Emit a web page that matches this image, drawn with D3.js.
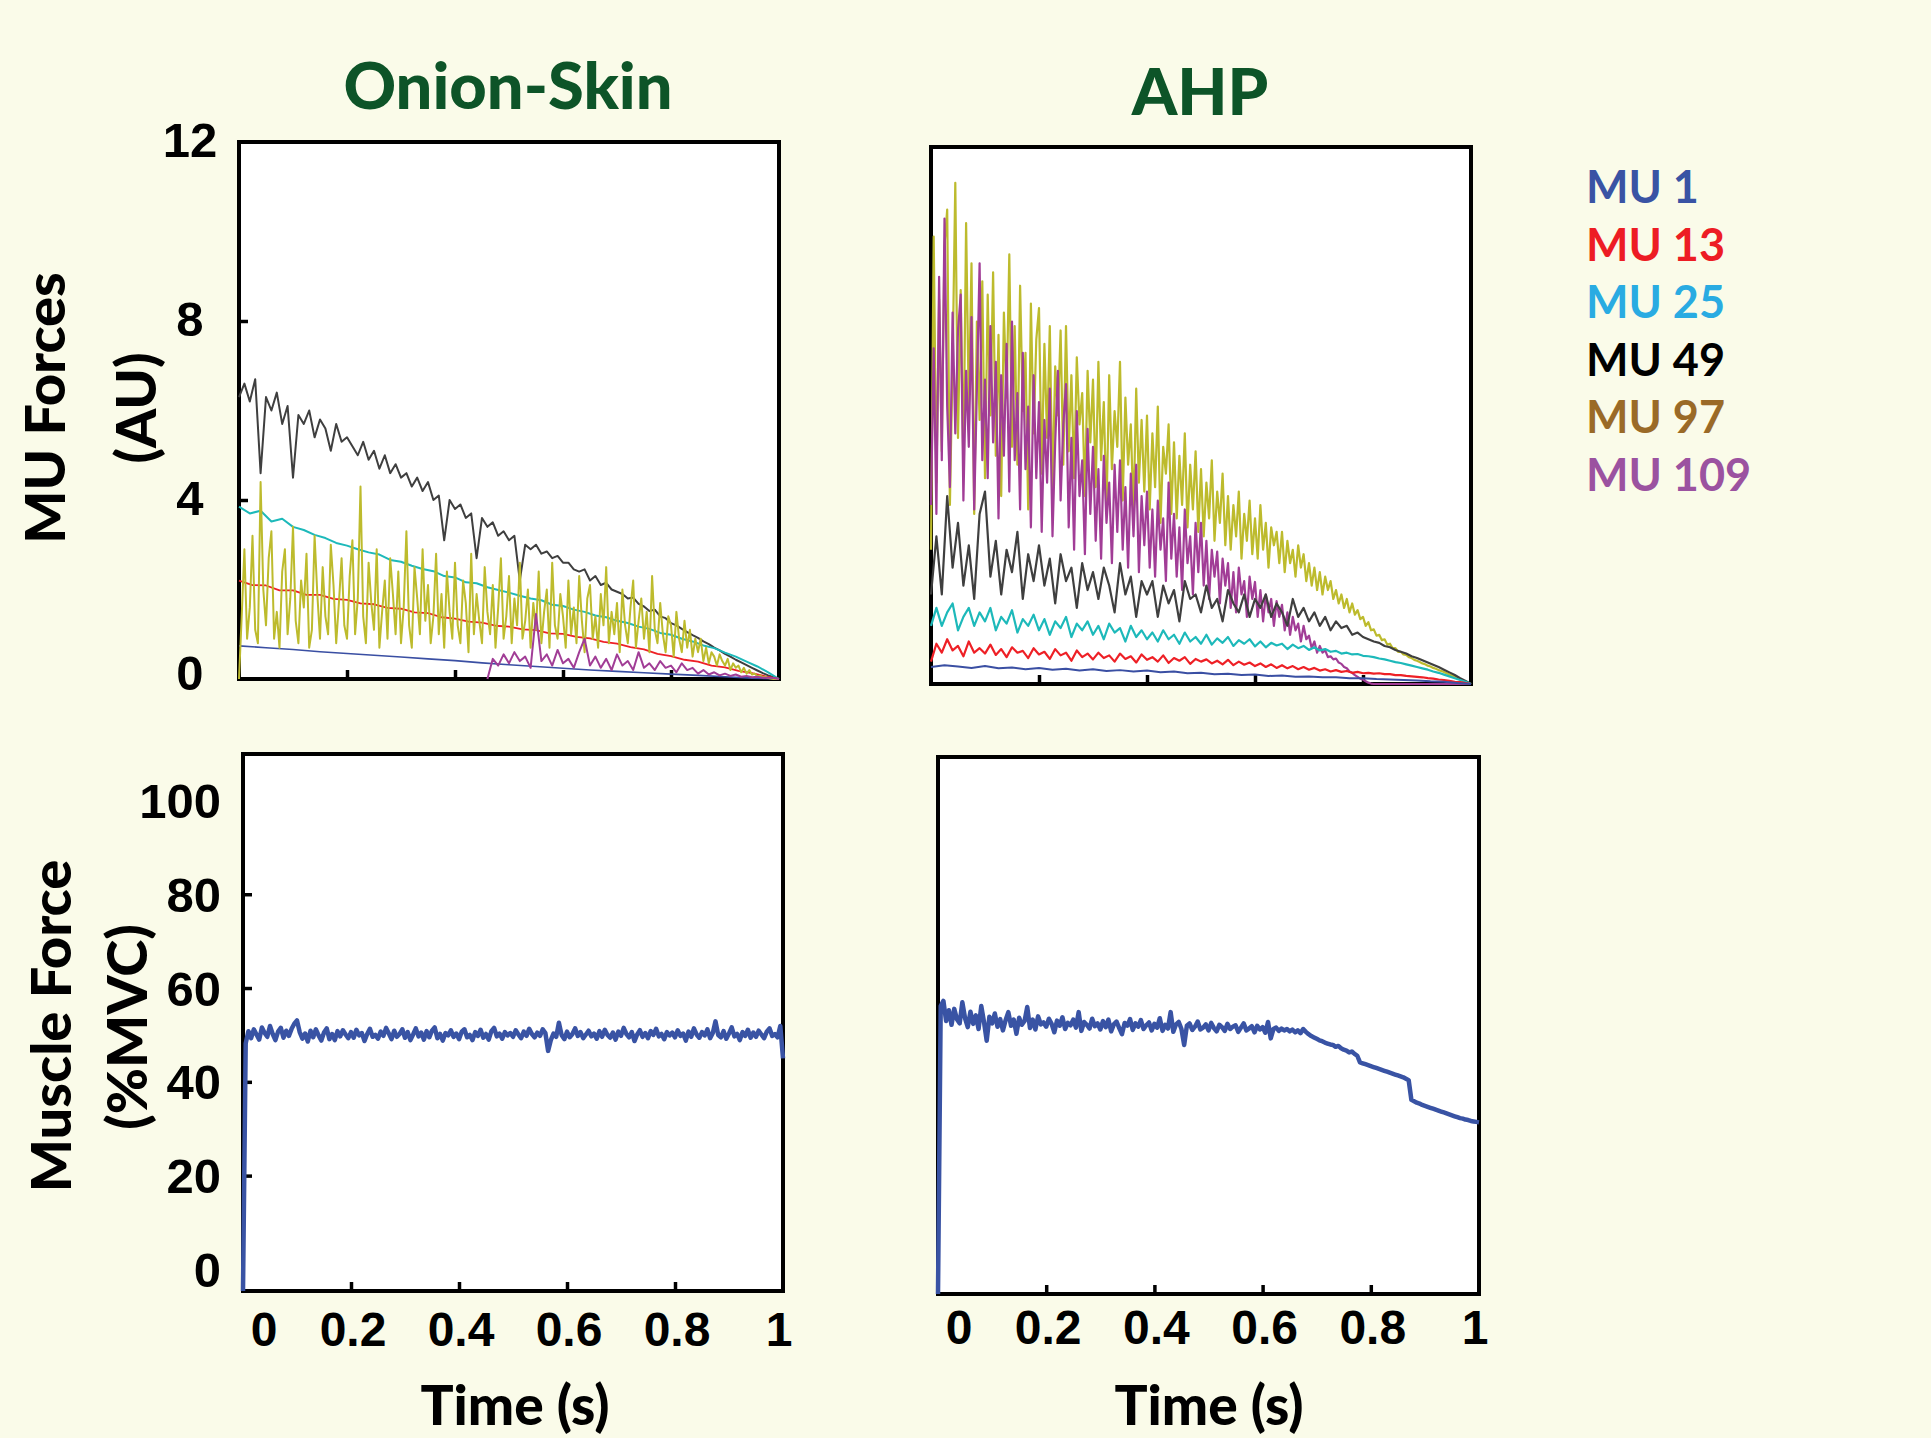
<!DOCTYPE html>
<html><head><meta charset="utf-8">
<script src="https://cdn.jsdelivr.net/npm/d3@7"></script>
<style>
html,body{margin:0;padding:0;background:#fafbe9;}
svg{display:block;}
</style></head><body>
<svg id="chart" width="1931" height="1438"></svg>
<script>
// ---------------- DATA ----------------
const panelTitles = ["Onion-Skin", "AHP"];
const timeTicks = [0, 0.2, 0.4, 0.6, 0.8, 1];
const timeTickLabels = ["0", "0.2", "0.4", "0.6", "0.8", "1"];
const muForceTicks = [0, 4, 8, 12];
const muscleTicks = [0, 20, 40, 60, 80, 100];
const legendLabels = ["MU 1", "MU 13", "MU 25", "MU 49", "MU 97", "MU 109"];

// sample steps of the traces (s)
const step005 = 0.005, step01 = 0.01, step02 = 0.02, step025 = 0.025, step05 = 0.05;

// Onion-Skin MU forces (AU)
const onionMU1 = [0.74,0.7,0.66,0.61,0.57,0.53,0.49,0.45,0.41,0.36,0.32,0.28,0.24,0.2,0.17,0.14,0.11,0.08,0.05,0.02,0];
const onionMU13 = [2.2,2.1,2.09,1.98,1.98,1.88,1.88,1.79,1.77,1.69,
 1.67,1.59,1.57,1.49,1.47,1.38,1.35,1.28,1.26,1.19,
 1.17,1.11,1.09,1.02,1.01,0.94,0.91,0.83,0.79,0.71,
 0.66,0.56,0.51,0.43,0.39,0.3,0.26,0.18,0.13,0.06,
 0];
const onionMU25 = [3.85,3.7,3.76,3.52,3.58,3.4,3.33,3.22,3.15,3.04,
 2.98,2.9,2.83,2.78,2.66,2.62,2.53,2.46,2.41,2.3,
 2.27,2.16,2.14,2.05,1.99,1.93,1.86,1.8,1.76,1.66,
 1.63,1.55,1.5,1.42,1.38,1.3,1.25,1.17,1.12,1.03,
 0.99,0.9,0.84,0.75,0.69,0.59,0.5,0.39,0.28,0.15,
 0];
const onionMU49 = [6.3,
 6.6,6.2,6.7,4.6,6.3,6.0,6.4,5.7,6.1,4.5,
 5.9,5.7,6.0,5.4,5.8,5.6,5.1,5.7,5.3,5.4,
 5.2,5.0,5.3,4.9,5.1,4.7,5.0,4.6,4.8,4.5,
 4.6,4.3,4.5,4.2,4.4,4.0,4.1,3.1,4.0,3.8,
 3.9,3.6,3.7,2.7,3.6,3.4,3.5,3.2,3.3,3.1,
 3.2,2.2,3.0,2.9,3.0,2.8,2.85,2.7,2.75,2.6,
 2.6,2.45,2.4,2.45,2.2,2.3,2.1,2.15,2.0,1.95,
 1.9,1.8,1.82,1.68,1.62,1.52,1.55,1.4,1.36,1.25,
 1.2,1.12,1.05,0.98,0.92,0.84,0.78,0.7,0.64,0.56,
 0.5,0.43,0.37,0.31,0.25,0.19,0.13,0.08,0.04,0];
const onionMU97 = [0,1.4,2.9,0.9,1.6,3.2,1.1,0.8,4.4,2.0,
 1.2,2.7,3.3,0.9,1.5,0.7,2.4,2.9,1.0,1.8,
 3.4,1.3,0.8,2.2,1.6,2.8,0.7,1.1,3.2,1.9,
 0.9,2.5,1.4,1.0,3.0,2.1,0.8,1.7,2.7,1.2,
 0.9,2.3,3.1,1.0,1.8,4.3,1.4,0.8,2.6,1.7,
 1.1,2.9,0.7,1.5,2.2,0.9,2.7,1.9,1.0,2.4,
 0.8,1.6,3.3,1.2,0.7,2.5,1.8,1.0,2.9,1.3,
 2.1,0.8,1.4,2.8,1.0,1.9,0.7,2.4,1.5,0.9,
 2.6,1.2,0.8,2.2,1.7,0.6,2.8,1.0,1.9,1.3,
 0.8,2.5,1.5,1.0,2.1,0.7,1.6,2.7,0.9,1.4,
 2.3,0.8,1.8,1.2,2.6,0.9,1.3,2.0,0.7,1.7,
 1.1,2.4,0.8,1.5,2.0,0.7,2.6,1.2,0.9,1.9,
 1.4,0.7,2.2,1.0,1.6,0.8,2.3,1.3,0.6,1.8,
 2.1,0.9,1.4,0.7,1.9,1.2,2.5,0.8,1.5,1.0,
 1.7,0.6,2.0,1.2,0.8,1.6,2.2,0.7,1.3,1.8,
 0.9,1.5,0.6,2.3,1.1,0.8,1.7,1.0,0.6,1.4,
 1.2,0.5,1.5,0.9,0.6,1.3,0.7,1.1,0.5,0.9,
 0.6,0.9,0.4,0.7,0.35,0.6,0.5,0.3,0.55,0.4,
 0.3,0.45,0.2,0.35,0.25,0.3,0.15,0.25,0.12,0.2,
 0.1,0.12,0.06,0.08,0.04,0.05,0.02,0.01,0,0,
 0];
const onionMU109Start = 0.46;
const onionMU109 = [0,
 0.45,0.3,0.55,0.35,0.6,0.4,0.5,0.25,1.45,0.4,
 0.55,0.3,0.65,0.35,0.45,0.25,0.6,0.9,0.3,0.5,
 0.25,0.45,0.2,0.55,0.3,0.4,0.2,0.6,0.25,0.35,
 0.2,0.4,0.25,0.3,0.15,0.35,0.2,0.25,0.12,0.2,
 0.1,0.15,0.08,0.12,0.07,0.1,0.05,0.07,0.04,0.05,
 0.03,0.03,0.02,0];

// AHP MU forces (AU)
const ahpMU1 = [0.38,0.42,0.39,0.36,0.4,0.35,0.37,0.33,0.36,0.32,
 0.34,0.3,0.33,0.29,0.31,0.28,0.3,0.26,0.28,0.24,
 0.25,0.22,0.23,0.2,0.21,0.18,0.19,0.16,0.17,0.15,
 0.15,0.13,0.13,0.11,0.1,0.09,0.08,0.06,0.05,0.02,
 0];
const ahpMU13 = [0.5,
 0.9,0.7,1.0,0.75,0.85,0.62,0.95,0.7,0.8,0.68,
 0.88,0.65,0.78,0.6,0.82,0.7,0.74,0.58,0.8,0.66,
 0.72,0.56,0.78,0.64,0.7,0.52,0.75,0.6,0.68,0.55,
 0.7,0.58,0.64,0.5,0.68,0.56,0.62,0.48,0.66,0.54,
 0.6,0.5,0.64,0.47,0.58,0.52,0.6,0.45,0.56,0.5,
 0.55,0.46,0.52,0.44,0.54,0.42,0.5,0.43,0.48,0.4,
 0.46,0.38,0.44,0.36,0.42,0.35,0.4,0.33,0.38,0.32,
 0.36,0.3,0.33,0.28,0.31,0.27,0.29,0.25,0.27,0.24,
 0.25,0.23,0.24,0.22,0.22,0.2,0.2,0.18,0.17,0.16,
 0.15,0.13,0.12,0.1,0.09,0.07,0.05,0.04,0.02,0];
const ahpMU25 = [1.3,
 1.7,1.3,1.6,1.8,1.2,1.5,1.7,1.3,1.6,1.4,
 1.7,1.2,1.5,1.35,1.65,1.15,1.45,1.3,1.55,1.2,
 1.45,1.1,1.4,1.25,1.5,1.05,1.35,1.2,1.4,1.1,
 1.3,1.0,1.35,1.15,1.25,0.95,1.3,1.05,1.2,1.0,
 1.15,0.95,1.2,1.0,1.1,0.9,1.15,0.95,1.05,0.9,
 1.1,0.88,1.02,0.92,1.05,0.85,0.98,0.9,1.0,0.84,
 0.95,0.82,0.92,0.86,0.9,0.78,0.88,0.8,0.85,0.76,
 0.82,0.75,0.78,0.72,0.74,0.68,0.7,0.66,0.67,0.63,
 0.62,0.6,0.57,0.55,0.52,0.49,0.47,0.44,0.41,0.38,
 0.35,0.32,0.28,0.25,0.21,0.17,0.13,0.09,0.05,0];
const ahpMU49 = [2.0,
 3.3,2.0,4.2,2.6,3.6,2.2,3.1,1.9,3.8,4.3,
 2.4,3.2,2.0,3.0,2.5,3.4,1.9,2.9,2.3,3.1,
 2.2,2.8,1.8,2.9,2.3,2.6,1.7,2.7,2.1,2.5,
 1.9,2.6,2.2,1.6,2.7,2.0,2.4,1.5,2.3,2.0,
 2.3,1.5,2.2,1.8,2.1,1.4,2.3,1.9,2.0,1.6,
 2.2,1.7,1.9,1.4,2.1,1.8,1.6,2.0,1.5,1.9,
 1.7,2.0,1.5,1.8,1.6,1.3,1.9,1.5,1.7,1.4,
 1.6,1.3,1.5,1.2,1.4,1.25,1.3,1.1,1.15,1.05,
 1.0,0.95,0.92,0.85,0.82,0.76,0.72,0.68,0.62,0.58,
 0.53,0.48,0.43,0.38,0.32,0.26,0.2,0.13,0.07,0];
const ahpMU97 = [3.0,10.0,4.5,8.6,5.2,9.8,10.6,4.0,7.2,11.2,
 5.5,8.8,4.8,10.3,6.2,9.4,3.8,8.1,5.9,9.0,
 4.6,8.7,6.0,9.2,5.1,7.8,4.2,8.3,6.4,9.6,
 5.3,8.0,4.9,8.9,6.1,7.4,3.9,8.5,5.6,7.7,
 8.4,4.7,7.6,5.5,8.0,4.3,7.1,6.0,7.9,4.9,
 8.0,5.2,6.9,4.6,7.3,5.8,6.5,4.2,7.0,5.4,
 6.8,4.4,7.2,5.0,6.3,3.9,6.9,4.8,6.1,5.3,
 7.2,4.1,6.4,4.9,5.8,3.8,6.6,4.5,5.9,4.3,
 6.0,3.9,5.6,4.4,6.2,3.6,5.3,4.7,5.8,3.8,
 5.4,3.7,5.1,4.0,5.6,3.5,4.9,3.9,5.2,3.4,
 4.8,3.3,4.5,3.7,5.0,3.2,4.3,3.6,4.7,3.1,
 4.2,3.0,4.0,3.3,4.3,2.8,3.8,3.2,4.1,2.9,
 3.7,2.8,4.0,3.0,3.6,2.6,3.5,3.1,3.4,2.7,
 3.4,2.5,3.2,2.7,3.0,2.4,3.1,2.6,2.9,2.3,
 2.7,2.2,2.6,2.1,2.5,2.0,2.4,2.1,2.3,1.9,
 2.1,1.8,2.0,1.7,1.9,1.6,1.8,1.55,1.65,1.45,
 1.5,1.3,1.38,1.2,1.22,1.08,1.1,0.98,1.0,0.88,
 0.9,0.8,0.8,0.72,0.72,0.66,0.65,0.6,0.58,0.54,
 0.52,0.49,0.46,0.44,0.41,0.39,0.36,0.34,0.31,0.29,
 0.27,0.24,0.21,0.19,0.16,0.13,0.1,0.07,0.05,0.02,
 0];
const ahpMU109 = [4.0,7.5,3.8,9.1,5.0,10.4,6.2,4.4,8.3,5.6,
 7.9,8.7,4.1,7.0,5.3,8.2,3.9,6.6,9.4,5.0,
 6.8,4.6,8.0,5.4,7.2,3.7,6.9,5.1,7.6,4.3,
 8.1,5.0,6.5,3.9,7.4,4.8,6.2,3.5,6.9,4.6,
 6.3,3.4,5.9,4.5,6.6,3.3,5.4,7.0,4.1,5.8,
 6.7,3.5,5.5,3.0,6.1,4.2,5.0,2.9,5.7,3.8,
 5.3,3.2,4.8,2.8,5.1,3.6,4.5,2.7,4.9,3.4,
 5.0,3.0,4.4,2.6,4.7,3.3,4.9,2.5,4.2,3.1,
 4.3,2.6,3.9,2.4,4.1,3.0,3.7,2.3,4.5,2.8,
 3.8,2.4,3.5,2.1,3.9,2.7,3.3,2.0,3.6,2.5,
 3.6,2.2,3.2,1.9,3.0,2.4,2.96,1.8,2.8,2.2,
 2.7,1.7,2.5,1.6,2.6,2.0,2.3,1.5,2.4,1.9,
 2.28,1.5,2.1,1.4,2.0,1.6,1.9,1.3,1.85,1.5,
 1.77,1.2,1.6,1.1,1.5,1.2,1.35,0.95,1.3,1.0,
 1.08,0.8,0.95,0.7,0.85,0.7,0.75,0.6,0.62,0.55,
 0.57,0.48,0.45,0.38,0.35,0.28,0.25,0.2,0.16,0.12,
 0.1,0.06,0.03,0.01,0,0,0,0,0,0,
 0,0,0,0,0,0,0,0,0,0,
 0,0,0,0,0,0,0,0,0,0,
 0,0,0,0,0,0,0,0,0,0,
 0];

// Muscle force (%MVC)
const onionMuscle = [-4.6,48.2,50.8,49.3,51.2,50.1,49.0,51.6,50.4,49.6,
 51.9,50.2,48.9,50.7,51.5,49.4,50.9,49.8,51.3,52.4,
 53.1,50.6,49.2,50.3,48.6,50.9,49.5,51.2,49.9,48.8,
 50.5,51.4,49.1,50.2,48.9,50.8,49.7,51.0,50.1,49.3,
 50.6,49.4,51.1,49.9,50.4,48.7,50.2,51.3,49.6,50.0,
 49.2,50.7,49.8,51.5,50.3,49.1,50.9,49.6,50.2,51.2,
 49.4,50.6,48.9,50.1,51.4,49.7,50.5,49.0,50.8,49.5,
 50.9,51.6,49.3,50.2,48.8,50.4,49.9,51.0,49.6,50.3,
 49.1,50.7,51.2,49.5,50.0,48.9,50.6,49.8,51.1,49.4,
 50.2,49.0,50.8,51.5,49.7,50.3,49.2,50.6,49.9,50.4,
 49.6,51.0,50.1,49.3,50.7,49.8,51.3,50.2,49.5,50.5,
 49.8,51.2,50.4,46.6,48.9,50.3,49.6,52.6,50.0,49.1,
 50.7,49.5,50.2,51.4,49.8,50.6,49.3,50.1,50.9,49.7,
 50.3,49.2,50.8,49.6,51.1,50.0,49.4,50.5,49.0,50.7,
 49.8,51.5,50.2,49.5,50.6,48.7,50.1,51.0,49.6,50.4,
 49.3,50.8,50.0,51.3,49.7,50.2,49.1,50.6,49.9,50.5,
 49.5,51.0,49.8,50.3,48.8,50.7,49.6,51.4,50.1,49.4,
 50.6,49.9,51.2,49.3,50.4,52.9,50.0,49.5,50.8,49.2,
 50.3,51.6,49.7,50.2,48.9,50.6,49.8,51.1,49.4,50.5,
 49.6,50.9,50.1,49.3,50.7,51.4,49.8,50.2,49.5,51.9,
 45.0];
const ahpMuscle = [-4.6,56.8,57.9,53.6,55.9,52.8,56.2,54.0,53.1,57.6,
 54.2,52.3,55.6,53.0,54.8,51.9,56.8,53.4,49.4,54.5,
 53.1,55.2,52.4,54.0,51.6,53.8,55.5,52.6,53.9,50.9,
 54.3,52.8,53.6,56.6,52.1,53.9,51.8,54.6,52.9,53.3,
 52.4,54.1,53.0,51.2,53.7,52.6,54.4,51.9,53.2,52.7,
 53.9,52.2,55.5,51.5,53.4,52.8,52.0,54.1,52.5,53.1,
 51.8,53.6,52.3,53.9,51.4,52.9,53.5,52.1,50.8,53.2,
 52.6,54.0,51.7,53.1,52.4,53.8,51.9,52.7,53.3,51.6,
 53.0,52.2,54.2,51.5,52.8,52.0,55.5,51.3,52.9,53.4,
 51.9,48.5,52.6,53.1,51.7,52.4,53.5,51.8,52.2,52.9,
 51.6,53.2,52.1,51.4,52.8,52.3,51.5,53.0,51.9,52.4,
 52.7,51.3,52.2,53.1,51.6,52.0,52.5,51.2,52.6,51.8,
 52.3,51.1,53.4,49.9,51.9,52.2,51.5,52.0,51.6,51.9,
 51.4,51.8,51.2,51.6,51.0,51.9,51.3,50.8,50.4,50.1,
 49.8,49.5,49.3,49.0,48.8,48.6,48.5,48.1,48.3,47.8,
 47.5,47.3,46.9,47.1,46.6,46.2,44.8,44.6,44.4,44.2,
 44.0,43.8,43.6,43.4,43.2,43.0,42.8,42.6,42.4,42.2,
 42.0,41.8,41.6,41.3,41.0,36.8,36.5,36.2,36.0,35.7,
 35.5,35.3,35.1,34.9,34.7,34.5,34.3,34.1,33.9,33.7,
 33.5,33.3,33.1,32.9,32.8,32.6,32.5,32.3,32.2,32.1,
 32.0];

// ---------------- STYLE ----------------
const BG = "#fafbe9";
const lineColors = {MU1:"#3a4fa3", MU13:"#ee2026", MU25:"#1db9ba", MU49:"#3f3f3f", MU97:"#bdbb2d", MU109:"#a13d96"};
const legendColors = ["#3953a4", "#ed1c24", "#29abe2", "#000000", "#9a6a27", "#9b52a0"];
const muscleColor = "#3953a4";
const titleColor = "#0d5428";
const labelFont = "'Liberation Sans', Arial, Helvetica, sans-serif";
const titleFont = "Lato, 'Open Sans', sans-serif";

const svg = d3.select("#chart");
svg.append("rect").attr("width", 1931).attr("height", 1438).attr("fill", BG);

function series(values, t0, dt) {
  return values.map((v, i) => ({t: t0 + i * dt, v}));
}

const boxes = {
  onionMU:     {x0: 239, x1: 779, y0: 142, y1: 679},
  ahpMU:       {x0: 931, x1: 1471, y0: 147, y1: 684},
  onionMuscle: {x0: 243, x1: 783, y0: 754, y1: 1291},
  ahpMuscle:   {x0: 938, x1: 1479, y0: 757, y1: 1294}
};

function makePanel(box, yDomain) {
  const x = d3.scaleLinear().domain([0, 1]).range([box.x0, box.x1]);
  const y = d3.scaleLinear().domain(yDomain).range([box.y1, box.y0]);
  const g = svg.append("g");
  g.append("rect").attr("x", box.x0).attr("y", box.y0)
    .attr("width", box.x1 - box.x0).attr("height", box.y1 - box.y0)
    .attr("fill", "#ffffff").attr("stroke", "#000").attr("stroke-width", 4);
  return {x, y, g};
}

function innerTicks(p, box, yTickVals) {
  const ax = d3.axisBottom(p.x).tickValues([0.2, 0.4, 0.6, 0.8]).tickSize(-9).tickFormat("");
  const gb = p.g.append("g").attr("transform", `translate(0,${box.y1})`).call(ax);
  gb.select(".domain").remove();
  gb.selectAll("line").attr("stroke", "#000").attr("stroke-width", 3.5);
  if (yTickVals) {
    const ay = d3.axisLeft(p.y).tickValues(yTickVals).tickSize(-9).tickFormat("");
    const gl = p.g.append("g").attr("transform", `translate(${box.x0},0)`).call(ay);
    gl.select(".domain").remove();
    gl.selectAll("line").attr("stroke", "#000").attr("stroke-width", 3.5);
  }
}

function drawLine(p, data, color, width) {
  const line = d3.line().x(d => p.x(d.t)).y(d => p.y(d.v));
  p.g.append("path").datum(data).attr("d", line)
    .attr("fill", "none").attr("stroke", color).attr("stroke-width", width)
    .attr("stroke-linejoin", "round");
}

function timeLabels(p, box, baseline) {
  p.g.selectAll(null).data(timeTicks).enter().append("text")
    .attr("x", (d, i) => p.x(d) + (i === 0 ? 21 : (i === timeTicks.length - 1 ? -4 : 2)))
    .attr("y", baseline)
    .attr("text-anchor", "middle")
    .attr("font-family", labelFont).attr("font-weight", "bold").attr("font-size", 48)
    .attr("fill", "#000")
    .text((d, i) => timeTickLabels[i]);
}

// ---- Top-left: Onion-Skin MU forces
const pA = makePanel(boxes.onionMU, [0, 12]);
innerTicks(pA, boxes.onionMU, [4, 8]);
drawLine(pA, series(onionMU49, 0, step01), lineColors.MU49, 2);
drawLine(pA, series(onionMU25, 0, step02), lineColors.MU25, 2);
drawLine(pA, series(onionMU13, 0, step025), lineColors.MU13, 1.8);
drawLine(pA, series(onionMU1, 0, step05), lineColors.MU1, 1.6);
drawLine(pA, series(onionMU97, 0, step005), lineColors.MU97, 2);
drawLine(pA, series(onionMU109, onionMU109Start, step01), lineColors.MU109, 2);
pA.g.selectAll(null).data(muForceTicks).enter().append("text")
  .attr("x", 190).attr("y", d => pA.y(d) - (d === 0 ? 7 : 3))
  .attr("dy", "0.36em").attr("text-anchor", "middle")
  .attr("font-family", labelFont).attr("font-weight", "bold").attr("font-size", 49)
  .attr("fill", "#000").text(d => d);

// ---- Top-right: AHP MU forces
const pB = makePanel(boxes.ahpMU, [0, 12]);
innerTicks(pB, boxes.ahpMU, null);
drawLine(pB, series(ahpMU97, 0, step005), lineColors.MU97, 2.2);
drawLine(pB, series(ahpMU109, 0, step005), lineColors.MU109, 2.2);
drawLine(pB, series(ahpMU49, 0, step01), lineColors.MU49, 2.2);
drawLine(pB, series(ahpMU25, 0, step01), lineColors.MU25, 2.2);
drawLine(pB, series(ahpMU13, 0, step01), lineColors.MU13, 2.2);
drawLine(pB, series(ahpMU1, 0, step025), lineColors.MU1, 2);

// ---- Bottom-left: Onion-Skin muscle force
const muscleDomain = [-4.6, 109.9];
const pC = makePanel(boxes.onionMuscle, muscleDomain);
innerTicks(pC, boxes.onionMuscle, [20, 40, 60, 80]);
drawLine(pC, series(onionMuscle, 0, step005), muscleColor, 4.5);
pC.g.selectAll(null).data(muscleTicks).enter().append("text")
  .attr("x", 221).attr("y", d => pC.y(d))
  .attr("dy", "0.36em").attr("text-anchor", "end")
  .attr("font-family", labelFont).attr("font-weight", "bold").attr("font-size", 49)
  .attr("fill", "#000").text(d => d);
timeLabels(pC, boxes.onionMuscle, 1346);

// ---- Bottom-right: AHP muscle force
const pD = makePanel(boxes.ahpMuscle, muscleDomain);
innerTicks(pD, boxes.ahpMuscle, null);
drawLine(pD, series(ahpMuscle, 0, step005), muscleColor, 4.5);
timeLabels(pD, boxes.ahpMuscle, 1344);

// ---- Titles
const titleSpecs = [{text: panelTitles[0], x: 508, y: 109}, {text: panelTitles[1], x: 1200, y: 115}];
svg.selectAll(null).data(titleSpecs).enter().append("text")
  .attr("x", d => d.x).attr("y", d => d.y).attr("text-anchor", "middle")
  .attr("font-family", titleFont).attr("font-weight", 900).attr("font-size", 65)
  .attr("fill", titleColor).text(d => d.text);

// ---- Axis titles
function vText(text, x, y) {
  svg.append("text").attr("transform", `translate(${x},${y}) rotate(-90)`)
    .attr("text-anchor", "middle")
    .attr("font-family", titleFont).attr("font-weight", 900).attr("font-size", 56)
    .attr("fill", "#000").text(text);
}
vText("MU Forces", 65, 408);
vText("(AU)", 156, 408);
vText("Muscle Force", 71, 1026);
vText("(%MVC)", 147, 1027);

[{x: 515}, {x: 1209}].forEach(d => {
  svg.append("text").attr("x", d.x).attr("y", 1425).attr("text-anchor", "middle")
    .attr("font-family", titleFont).attr("font-weight", 900).attr("font-size", 55)
    .attr("fill", "#000").text("Time (s)");
});

// ---- Legend
svg.selectAll(null).data(legendLabels).enter().append("text")
  .attr("x", 1586).attr("y", (d, i) => 203 + i * 57.6)
  .attr("font-family", titleFont).attr("font-weight", "bold").attr("font-size", 45)
  .attr("fill", (d, i) => legendColors[i]).text(d => d);
</script>
</body></html>
